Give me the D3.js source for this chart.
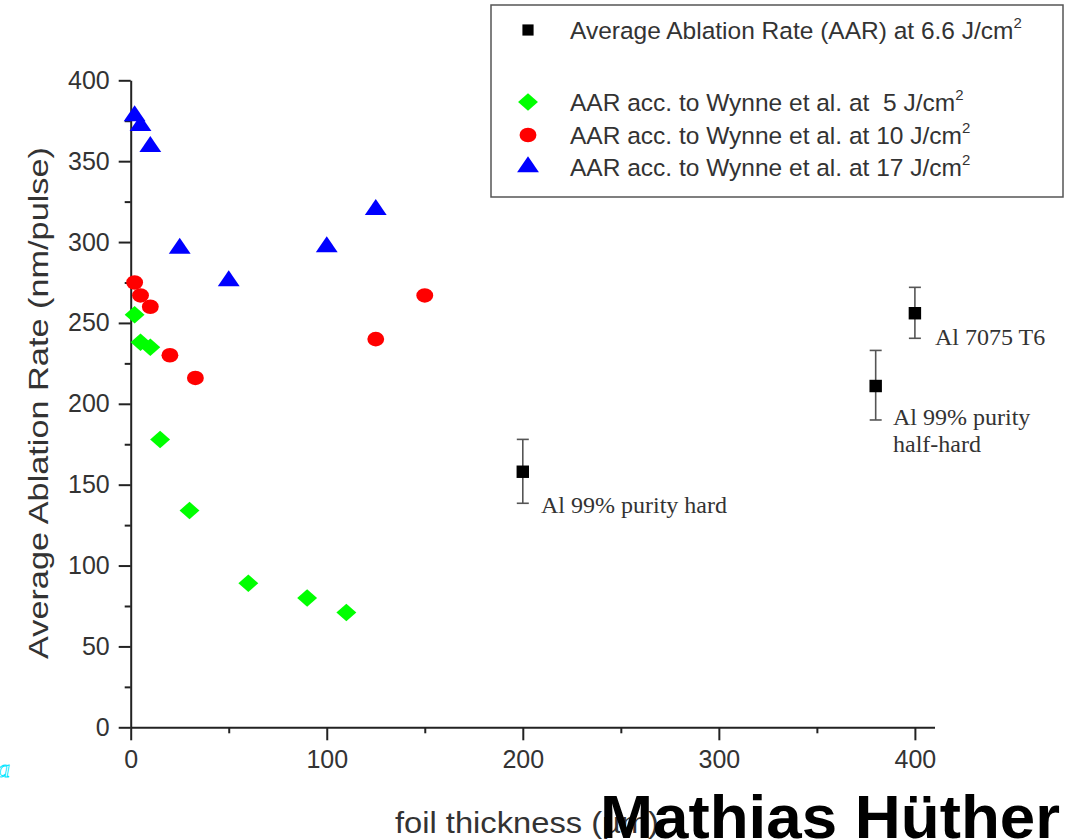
<!DOCTYPE html>
<html>
<head>
<meta charset="utf-8">
<script src="https://cdn.jsdelivr.net/npm/d3@7"></script>
<style>
html,body{margin:0;padding:0;background:#fff;}
svg{display:block;}
</style>
</head>
<body>
<svg id="chart" width="1067" height="840"></svg>
<script>
// ---- data ----
const xTicks = [0, 100, 200, 300, 400];
const yTicks = [0, 50, 100, 150, 200, 250, 300, 350, 400];

// Average Ablation Rate at 6.6 J/cm2 (black squares with error bars)
const aarX = [200, 380, 400];
const aarY = [158, 211, 256];
const aarLo = [138.5, 190, 240.5];
const aarHi = [178, 233, 272];
const aarLabels = [["Al 99% purity hard"], ["Al 99% purity", "half-hard"], ["Al 7075 T6"]];

// Wynne et al. 5 J/cm2 (green diamonds)
const w5X = [2, 5, 10, 15, 30, 60, 90, 110];
const w5Y = [255, 238, 235, 178, 134, 89, 80, 71];

// Wynne et al. 10 J/cm2 (red circles)
const w10X = [2, 5, 10, 20, 33, 125, 150];
const w10Y = [275, 267, 260, 230, 216, 240, 267];

// Wynne et al. 17 J/cm2 (blue triangles)
const w17X = [2, 5, 10, 25, 50, 100, 125];
const w17Y = [378, 372, 359, 296, 276, 297, 320];

const legendLabels = [
  "Average Ablation Rate (AAR) at 6.6 J/cm",
  "AAR acc. to Wynne et al. at\u00a0 5 J/cm",
  "AAR acc. to Wynne et al. at 10 J/cm",
  "AAR acc. to Wynne et al. at 17 J/cm"
];

// ---- chart ----
const svg = d3.select("#chart");
const x = d3.scaleLinear().domain([0, 410]).range([130.7, 934.5]);
const y = d3.scaleLinear().domain([0, 400]).range([727.3, 80.3]);
const axisColor = "#222";

// y axis
const yAxisG = svg.append("g").attr("transform", `translate(${x(0)},0)`);
yAxisG.call(d3.axisLeft(y).tickValues(yTicks).tickSize(12).tickSizeOuter(0).tickPadding(9));
const yMinor = svg.append("g").attr("transform", `translate(${x(0)},0)`);
yMinor.call(d3.axisLeft(y).tickValues(d3.range(25, 400, 50)).tickSize(6).tickSizeOuter(0).tickFormat(""));
yMinor.select(".domain").remove();

// x axis
const xAxisG = svg.append("g").attr("transform", `translate(0,${y(0)})`);
xAxisG.call(d3.axisBottom(x).tickValues(xTicks).tickSize(13).tickSizeOuter(0).tickPadding(10));
const xMinor = svg.append("g").attr("transform", `translate(0,${y(0)})`);
xMinor.call(d3.axisBottom(x).tickValues([50, 150, 250, 350]).tickSize(6).tickSizeOuter(0).tickFormat(""));
xMinor.select(".domain").remove();
[yAxisG, yMinor, xAxisG, xMinor].forEach(g => {
  g.selectAll("path,line").attr("stroke", axisColor).attr("stroke-width", 2);
  g.selectAll("text").attr("font-family", "Liberation Sans, Arial, sans-serif").attr("font-size", 25).attr("fill", "#333");
});

// axis titles
svg.append("text")
  .attr("transform", `translate(48,403) rotate(-90)`)
  .attr("text-anchor", "middle")
  .attr("font-family", "Liberation Sans, Arial, sans-serif")
  .attr("font-size", 28)
  .attr("fill", "#333")
  .attr("textLength", 512)
  .attr("lengthAdjust", "spacingAndGlyphs")
  .text("Average Ablation Rate (nm/pulse)");

svg.append("text")
  .attr("x", 395).attr("y", 833)
  .attr("font-family", "Liberation Sans, Arial, sans-serif")
  .attr("font-size", 30)
  .attr("fill", "#333")
  .attr("textLength", 264)
  .attr("lengthAdjust", "spacingAndGlyphs")
  .text("foil thickness (µm)");

// error bars
const eb = svg.append("g").attr("stroke", "#555").attr("stroke-width", 1.6);
aarX.forEach((v, i) => {
  const cx = x(v);
  eb.append("line").attr("x1", cx).attr("x2", cx).attr("y1", y(aarLo[i])).attr("y2", y(aarHi[i]));
  eb.append("line").attr("x1", cx - 6).attr("x2", cx + 6).attr("y1", y(aarLo[i])).attr("y2", y(aarLo[i]));
  eb.append("line").attr("x1", cx - 6).attr("x2", cx + 6).attr("y1", y(aarHi[i])).attr("y2", y(aarHi[i]));
});

const sqr = d3.symbol().type(d3.symbolSquare).size(155);
const dia = d3.symbol().type(d3.symbolSquare).size(170);
const cir = d3.symbol().type(d3.symbolCircle).size(185);
const tri = d3.symbol().type(d3.symbolTriangle).size(165);
const diaT = "scale(1.08,0.95) rotate(45)";
const cirT = "scale(1.1,0.95)";
const triT = "scale(1.12,0.95)";

svg.append("g").selectAll("path").data(w5X).join("path")
  .attr("d", dia).attr("fill", "#00ff00")
  .attr("transform", (d, i) => `translate(${x(d)},${y(w5Y[i])}) ${diaT}`);
svg.append("g").selectAll("path").data(w10X).join("path")
  .attr("d", cir).attr("fill", "#ff0000")
  .attr("transform", (d, i) => `translate(${x(d)},${y(w10Y[i])}) ${cirT}`);
svg.append("g").selectAll("path").data(w17X).join("path")
  .attr("d", tri).attr("fill", "#0000ff")
  .attr("transform", (d, i) => `translate(${x(d)},${y(w17Y[i])}) ${triT}`);
svg.append("g").selectAll("path").data(aarX).join("path")
  .attr("d", sqr).attr("fill", "#000")
  .attr("transform", (d, i) => `translate(${x(d)},${y(aarY[i])})`);

// annotations
const annPos = [[541, 513], [893, 425], [935, 345]];
aarLabels.forEach((lines, i) => {
  lines.forEach((t, j) => {
    svg.append("text")
      .attr("x", annPos[i][0]).attr("y", annPos[i][1] + j * 27)
      .attr("font-family", "Liberation Serif, Times New Roman, serif")
      .attr("font-size", 24)
      .attr("fill", "#333")
      .text(t);
  });
});

// legend
const lg = svg.append("g");
lg.append("rect").attr("x", 491).attr("y", 5).attr("width", 572).attr("height", 192)
  .attr("fill", "#fff").attr("stroke", "#555").attr("stroke-width", 1.5);
const legY = [30, 102, 135, 167];
const legSym = [
  {d: d3.symbol().type(d3.symbolSquare).size(125)(), fill: "#000", sc: ""},
  {d: dia(), fill: "#00ff00", sc: diaT},
  {d: cir(), fill: "#ff0000", sc: cirT},
  {d: tri(), fill: "#0000ff", sc: triT}
];
legendLabels.forEach((t, i) => {
  lg.append("path").attr("d", legSym[i].d).attr("fill", legSym[i].fill)
    .attr("transform", `translate(528,${legY[i]}) ${legSym[i].sc}`);
  const tx = lg.append("text").attr("x", 570).attr("y", legY[i] + 9)
    .attr("font-family", "Liberation Sans, Arial, sans-serif")
    .attr("font-size", 24.5).attr("fill", "#333");
  tx.append("tspan").text(t);
  tx.append("tspan").attr("dy", -11).attr("font-size", 15).text("2");
});

// overlaid name
svg.append("text")
  .attr("x", 600).attr("y", 838)
  .attr("font-family", "Liberation Sans, Arial, sans-serif")
  .attr("font-weight", "bold")
  .attr("font-size", 62)
  .attr("fill", "#000")
  .attr("textLength", 460)
  .attr("lengthAdjust", "spacingAndGlyphs")
  .text("Mathias Hüther");

// cyan glyph at left edge
svg.append("text")
  .attr("x", -3).attr("y", 777)
  .attr("font-family", "Liberation Serif, serif")
  .attr("font-style", "italic")
  .attr("font-size", 26)
  .attr("fill", "none").attr("stroke", "#00e5ff").attr("stroke-width", 0.9)
  .text("a");
</script>
</body>
</html>
